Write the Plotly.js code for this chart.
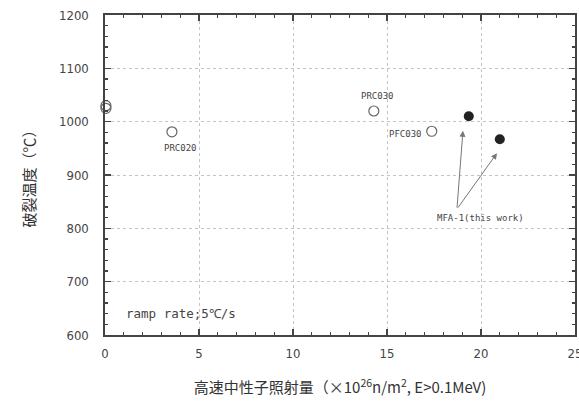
<!DOCTYPE html>
<html>
<head>
<meta charset="utf-8">
<script src="https://cdn.plot.ly/plotly-3.0.1.min.js"></script>
<style>html,body{margin:0;padding:0;background:#fff;}#chart{width:579px;height:407px;}</style>
</head>
<body>
<div id="chart"></div>
<script>
// Reference data (open circles)
const refNames = ["", "", "PRC020", "PRC030", "PFC030"];
const refFluence = [0.05, 0.05, 3.56, 14.3, 17.38];
const refTemp = [1025, 1030, 981, 1020, 982];
// This work (filled circles)
const mfaFluence = [19.35, 21.0];
const mfaTemp = [1010, 967];
// Axis tick values
const xTicks = [0, 5, 10, 15, 20, 25];
const yTicks = [600, 700, 800, 900, 1000, 1100, 1200];
const xMinorStep = 1;
const yMinorStep = 20;

const axCol = '#444';
const txtCol = '#444';
const gridCol = '#c4c4c4';

const traces = [
  {x: refFluence, y: refTemp, type: 'scatter', mode: 'markers', cliponaxis: false,
   marker: {symbol: 'circle-open', size: 10, color: '#666', line: {width: 1.2, color: '#666'}}, hoverinfo: 'x+y'},
  {x: mfaFluence, y: mfaTemp, type: 'scatter', mode: 'markers', cliponaxis: false,
   marker: {symbol: 'circle', size: 10, color: '#222'}, hoverinfo: 'x+y'}
];

const lblFont = {family: 'DejaVu Sans Mono, Liberation Mono, monospace', size: 9, color: txtCol};
const tickFont = {size: 13, color: txtCol, family: 'DejaVu Sans Condensed, DejaVu Sans, sans-serif'};
const layout = {
  width: 579, height: 407,
  margin: {l: 105, r: 4, t: 15, b: 72},
  paper_bgcolor: '#fff', plot_bgcolor: '#fff',
  showlegend: false,
  font: {family: 'DejaVu Sans Condensed, DejaVu Sans, sans-serif', color: txtCol},
  xaxis: {
    range: [xTicks[0], xTicks[xTicks.length - 1] + 0.0001],
    tickmode: 'linear', tick0: xTicks[0], dtick: xTicks[1] - xTicks[0],
    ticks: 'inside', ticklen: 6, tickwidth: 1.3, tickcolor: axCol, mirror: 'allticks',
    showline: true, linecolor: axCol, linewidth: 1.6,
    showgrid: true, gridcolor: gridCol, griddash: 'dot', gridwidth: 1,
    zeroline: false, ticklabelstandoff: 6, ticklabeloverflow: 'allow',
    tickfont: tickFont,
    minor: {dtick: xMinorStep, ticks: 'inside', ticklen: 3, tickwidth: 1.1, tickcolor: axCol, showgrid: false},
    title: {text: '高速中性子照射量（×10<sup>26</sup>n/m<sup>2</sup>, E>0.1MeV)', standoff: 22,
            font: {family: 'Noto Sans CJK JP, sans-serif', size: 15, color: '#333'}}
  },
  yaxis: {
    range: [yTicks[0], yTicks[yTicks.length - 1] + 0.0001],
    tickmode: 'linear', tick0: yTicks[0], dtick: yTicks[1] - yTicks[0],
    ticks: 'inside', ticklen: 6, tickwidth: 1.3, tickcolor: axCol, mirror: 'allticks',
    showline: true, linecolor: axCol, linewidth: 1.6,
    showgrid: true, gridcolor: gridCol, griddash: 'dot', gridwidth: 1,
    zeroline: false, ticklabelstandoff: 12,
    tickfont: tickFont,
    minor: {dtick: yMinorStep, ticks: 'inside', ticklen: 3, tickwidth: 1.1, tickcolor: axCol, showgrid: false},
    title: {text: '破裂温度（℃）', standoff: 20,
            font: {family: 'Noto Sans CJK JP, sans-serif', size: 15, color: '#333'}}
  },
  annotations: [
    {x: 4.04, y: 950, xref: 'x', yref: 'y', text: refNames[2], showarrow: false, font: lblFont},
    {x: 14.47, y: 1048, xref: 'x', yref: 'y', text: refNames[3], showarrow: false, font: lblFont},
    {x: 15.96, y: 977, xref: 'x', yref: 'y', text: refNames[4], showarrow: false, font: lblFont},
    {x: 1.0, y: 641, xref: 'x', yref: 'y', xanchor: 'left', text: 'ramp rate;5℃/s', showarrow: false,
     font: {family: 'DejaVu Sans Mono, monospace', size: 12.5, color: txtCol}},
    {x: 19.95, y: 819, xref: 'x', yref: 'y', text: 'MFA-1(this work)', showarrow: false, font: lblFont},
    {x: 19.04, y: 983, xref: 'x', yref: 'y', ax: 18.72, ay: 836, axref: 'x', ayref: 'y', text: '',
     showarrow: true, arrowhead: 2, arrowsize: 1.2, arrowwidth: 1, arrowcolor: '#777'},
    {x: 20.85, y: 941, xref: 'x', yref: 'y', ax: 18.72, ay: 836, axref: 'x', ayref: 'y', text: '',
     showarrow: true, arrowhead: 2, arrowsize: 1.2, arrowwidth: 1, arrowcolor: '#777'}
  ]
};

Plotly.newPlot('chart', traces, layout, {displayModeBar: false, staticPlot: true});
</script>
</body>
</html>
